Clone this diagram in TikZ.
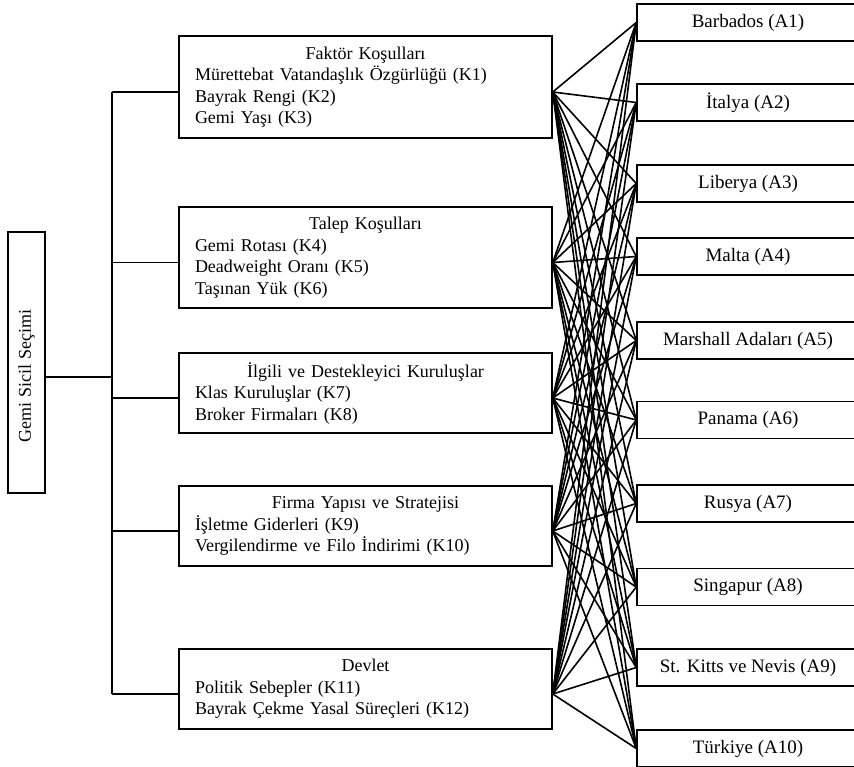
\documentclass[tikz,border=0pt]{standalone}
\usepackage{fontspec}
\setmainfont{Liberation Serif}
\usetikzlibrary{positioning}
\tikzset{
  % kutular
  rootbox/.style={draw,line width=1.5pt,rotate=90,minimum width=261pt,minimum height=37pt,inner sep=0pt},
  kbox/.style={draw,line width=1.5pt,text width=341pt,inner xsep=16pt,inner ysep=2pt,align=left},
  abox/.style={draw,line width=1.5pt,minimum width=222pt,minimum height=37pt,inner sep=0pt,font=\fontsize{19}{22}\selectfont},
  % baglantilar
  link/.style={line width=1.6pt}
}

\begin{document}
\begin{tikzpicture}[x=1pt,y=-1pt,every node/.style={font=\fontsize{18}{21.5}\selectfont}]
  \useasboundingbox (0,0) rectangle (854,766);
  \node[rootbox] (root) at (26.5,362.5) {Gemi Sicil Seçimi\hspace*{27pt}};
  \node[kbox,minimum height=102pt] (k1) at (365.5,87) {\hfill Faktör Koşulları\hfill\mbox{}\\ Mürettebat Vatandaşlık Özgürlüğü (K1)\\ Bayrak Rengi (K2)\\ Gemi Yaşı (K3)};
  \node[kbox,minimum height=101pt] (k2) at (365.5,257.5) {\hfill Talep Koşulları\hfill\mbox{}\\ Gemi Rotası (K4)\\ Deadweight Oranı (K5)\\ Taşınan Yük (K6)};
  \node[kbox,minimum height=80pt] (k3) at (365.5,393) {\hfill İlgili ve Destekleyici Kuruluşlar\hfill\mbox{}\\ Klas Kuruluşlar (K7)\\ Broker Firmaları (K8)};
  \node[kbox,minimum height=80pt] (k4) at (365.5,526) {\hfill Firma Yapısı ve Stratejisi\hfill\mbox{}\\ İşletme Giderleri (K9)\\ Vergilendirme ve Filo İndirimi (K10)};
  \node[kbox,minimum height=80pt] (k5) at (365.5,689) {\hfill Devlet\hfill\mbox{}\\ Politik Sebepler (K11)\\ Bayrak Çekme Yasal Süreçleri (K12)};
  \node[abox] (a1) at (748,22.5) {Barbados (A1)};
  \node[abox] (a2) at (748,102.5) {İtalya (A2)};
  \node[abox] (a3) at (748,183.5) {Liberya (A3)};
  \node[abox] (a4) at (748,256.5) {Malta (A4)};
  \node[abox] (a5) at (748,340.5) {Marshall Adaları (A5)};
  \node[abox] (a6) at (748,420) {Panama (A6)};
  \node[abox] (a7) at (748,503.5) {Rusya (A7)};
  \node[abox] (a8) at (748,587) {Singapur (A8)};
  \node[abox] (a9) at (748,667.5) {St. Kitts ve Nevis (A9)};
  \node[abox] (a10) at (748,748.5) {Türkiye (A10)};
  % agac
  \coordinate (bus) at (112,377);
  \draw[link] ([yshift=-14.5pt]root.south) -- (bus);
  \foreach \k in {1,...,5} {
    \coordinate (k\k l) at ([yshift=-5pt]k\k.west);
    \coordinate (k\k r) at ([yshift=-5pt]k\k.east);
    \draw[link] (bus |- k\k l) -- (k\k l);
  }
  \draw[link] (bus |- k1l) -- (bus |- k5l);
  % her kriterden her alternatife
  \foreach \k in {1,...,5}
    \foreach \a in {1,...,10}
      \draw[link] (k\k r) -- (a\a.west);
\end{tikzpicture}
\end{document}
